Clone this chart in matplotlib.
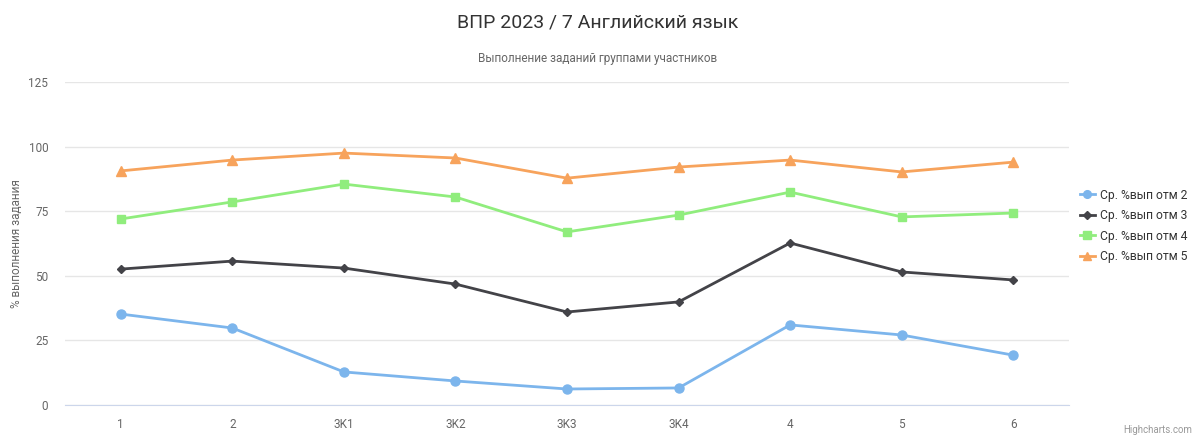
import numpy as np
import matplotlib
matplotlib.use('Agg')
import matplotlib.pyplot as plt

plt.rcParams['font.family'] = ['Roboto', 'DejaVu Sans']

categories = ['1', '2', '3K1', '3K2', '3K3', '3K4', '4', '5', '6']
otm2 = [35.2, 29.8, 12.8, 9.3, 6.2, 6.6, 31.0, 27.1, 19.3]
otm3 = [52.6, 55.7, 53.0, 46.8, 36.0, 39.9, 62.7, 51.5, 48.4]
otm4 = [72.0, 78.6, 85.5, 80.5, 67.0, 73.5, 82.4, 72.8, 74.3]
otm5 = [90.6, 94.8, 97.5, 95.6, 87.8, 92.1, 94.8, 90.2, 94.0]

series = [
    ('Ср. %вып отм 2', otm2, '#7cb5ec', 'o', 6.5),
    ('Ср. %вып отм 3', otm3, '#434348', 'D', 4.5),
    ('Ср. %вып отм 4', otm4, '#90ed7d', 's', 6),
    ('Ср. %вып отм 5', otm5, '#f7a35c', '^', 6.5),
]

fig = plt.figure(figsize=(11.95, 4.41), dpi=100)
ax = fig.add_axes([0.0544, 0.0816, 0.8402, 0.7324])

x = np.arange(len(categories))
for name, vals, color, marker, ms in series:
    ax.plot(x, vals, color=color, lw=2, marker=marker, markersize=ms,
            label=name, zorder=3)

ax.set_xlim(-0.5, len(categories) - 0.5)
ax.set_ylim(0, 125)
ax.set_yticks([0, 25, 50, 75, 100, 125])
ax.set_xticks(x)
ax.set_xticklabels(categories)
ax.tick_params(axis='both', length=0, labelsize=8.5, labelcolor='#666666')
ax.tick_params(axis='x', pad=9)
ax.tick_params(axis='y', pad=12)
ax.grid(axis='y', color='#e6e6e6', lw=1)
ax.set_axisbelow(True)
for side in ['top', 'right', 'left']:
    ax.spines[side].set_visible(False)
ax.spines['bottom'].set_color('#ccd6eb')

ax.set_ylabel('% выполнения задания', color='#666666', fontsize=8.5, labelpad=4)

fig.text(0.5, 0.95, 'ВПР 2023 / 7 Английский язык', ha='center', va='center',
         fontsize=14, color='#333333')
fig.text(0.5, 0.868, 'Выполнение заданий группами участников', ha='center',
         va='center', fontsize=8.5, color='#666666')
fig.text(0.998, 0.013, 'Highcharts.com', ha='right', va='bottom', fontsize=7,
         color='#999999')

leg = ax.legend(loc='center left', bbox_to_anchor=(1.002, 0.555), frameon=False,
                fontsize=8.7, labelcolor='#333333', handlelength=1.3,
                handletextpad=0.4, labelspacing=0.62, borderaxespad=0.3,
                markerscale=0.85)

fig.savefig('out.png', dpi=100)
